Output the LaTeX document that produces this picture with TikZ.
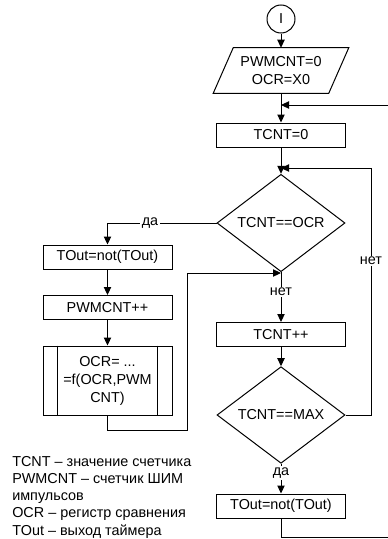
\documentclass[tikz,border=0pt]{standalone}
\usepackage{fontspec}
\setmainfont{Liberation Sans}
\usetikzlibrary{positioning,arrows.meta,shapes.geometric,calc}

\begin{document}
\begin{tikzpicture}[
  x=0.75pt,
  y=-0.75pt,
  every node/.style={
    font=\fontsize{10.8}{13.5}\selectfont,
    align=center
  },
  box/.style={
    draw,
    line width=.75pt,
    minimum width=96.75pt,
    minimum height=18pt,
    inner sep=1pt
  },
  dec/.style={
    draw,
    diamond,
    line width=.75pt,
    inner sep=0pt,
    minimum width=96pt,
    minimum height=58pt
  },
  lbl/.style={
    fill=white,
    inner sep=1pt
  },
  arr/.style={
    -{Triangle[length=6pt,width=5.5pt]},
    line width=.75pt
  },
  ln/.style={
    line width=.75pt
  }
]

\useasboundingbox (0,0) rectangle (388,539);
\clip (0,0) rectangle (388,539);

\node[
  draw,
  circle,
  line width=.75pt,
  minimum size=21pt,
  inner sep=0pt
] (start) at (281,19)
{I};

% parallelogram drawn around an empty node
\node[
  minimum width=101.25pt,
  minimum height=33.75pt,
  inner sep=0pt
] (par) at (281,70.5)
{PWMCNT=0\\OCR=X0};
\draw[ln]
  ([xshift=15pt]par.north west) -- (par.north east)
  -- ([xshift=-15pt]par.south east) -- (par.south west) -- cycle;

\node[box] (tcnt0) at (281,135)
{TCNT=0};

\node[dec] (d1) at (281,223)
{TCNT==OCR};

\node[box] (tout1) at (107.5,257)
{TOut=not(TOut)};

\node[box] (pwm) at (107.5,307.5)
{PWMCNT++};

\node[
  box,
  minimum height=51.75pt
] (ocr) at (107.5,380.5)
{OCR= ...\\=f(OCR,PWM\\CNT)};
\draw[ln]
  ([xshift=11.25pt]ocr.north west) -- ([xshift=11.25pt]ocr.south west);
\draw[ln]
  ([xshift=-11.25pt]ocr.north east) -- ([xshift=-11.25pt]ocr.south east);

\node[box] (tinc) at (281,334.5)
{TCNT++};

\node[
  dec,
  minimum height=57pt
] (d2) at (281,415)
{TCNT==MAX};

\node[box] (tout2) at (281,506)
{TOut=not(TOut)};

\node[
  anchor=north west,
  align=left,
  inner sep=0pt,
  font=\fontsize{10.8}{12.9}\selectfont
] (leg) at (12,456)
{TCNT – значение счетчика\\
PWMCNT – счетчик ШИМ\\
импульсов\\
OCR – регистр сравнения\\
TOut – выход таймера};

% joints
\coordinate (m1) at (281,105);
\coordinate (m2) at (281,168);
\coordinate (j1) at (281,273);
\coordinate (c1) at (187,430);
\coordinate (r1) at (395,537);
\coordinate (r2) at (371,168);

\draw[arr] (start) -- (par);
\draw[arr] (par.south) -- (tcnt0.north);
\draw[arr] (tcnt0.south) -- (d1.north);
\draw[arr] (d1.west) -| (tout1.north);
\draw[arr] (tout1) -- (pwm);
\draw[arr] (pwm) -- (ocr);
\draw[arr] (ocr.south) |- (c1) |- (j1);
\draw[arr] (d1.south) -- (tinc.north);
\draw[arr] (tinc) -- (d2);
\draw[arr] (d2.south) -- (tout2.north);
\draw[arr] (d2.east) -| (r2) -- (m2);
\draw[arr] (tout2.south) |- (r1) |- (m1);

\node[lbl] (yes1) at (150,223) {да};
\node[lbl] (no1) at (281,292) {нет};
\node[lbl] (no2) at (371,261) {нет};
\node[lbl] (yes2) at (281,473) {да};

\end{tikzpicture}
\end{document}
